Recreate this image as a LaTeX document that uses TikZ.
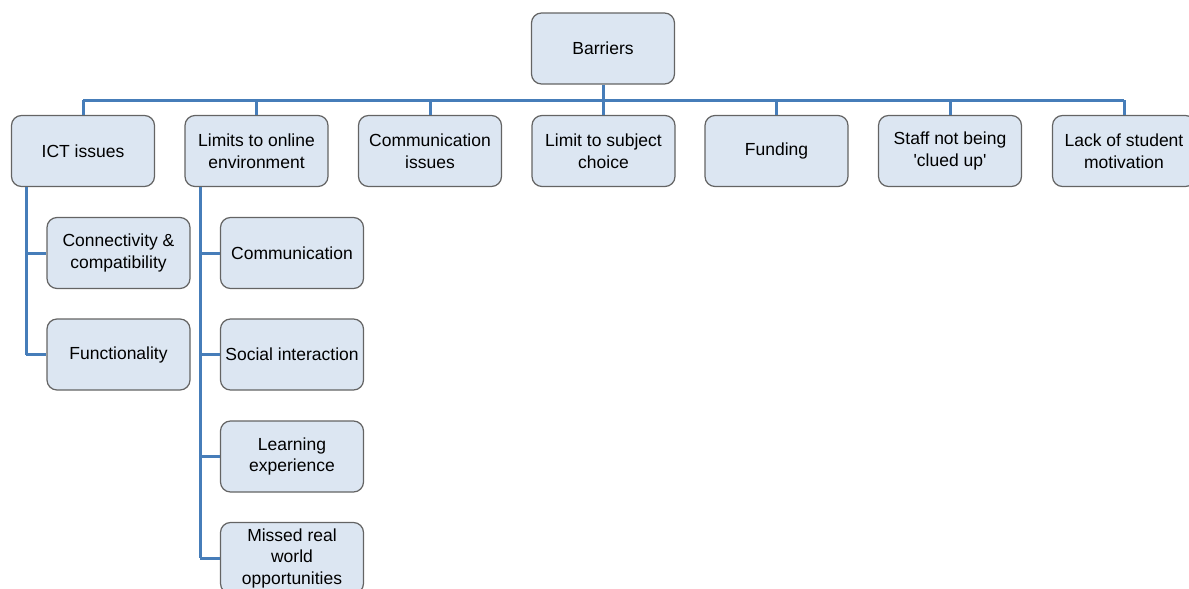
\documentclass[tikz,border=0pt]{standalone}
\usepackage{fontspec}
\setmainfont{Liberation Sans}
\begin{document}
\definecolor{boxfill}{RGB}{220,230,242}
\definecolor{boxline}{RGB}{100,100,100}
\definecolor{link}{RGB}{70,125,185}
\begin{tikzpicture}[x=1pt,y=-1pt,
  box/.style={draw=boxline,line width=1.2pt,fill=boxfill,rounded corners=10pt,
    minimum width=143pt,minimum height=71pt,align=center,inner sep=2pt,
    font=\fontsize{17.5}{21.5}\selectfont},
  link/.style={draw=link,line width=3pt}]
\useasboundingbox (0,0) rectangle (1189,589);
\clip (0,0) rectangle (1189,589);
% root
\node[box] (root) at (603,48.5) {Barriers};
% first level
\node[box] (ict)   at (83,151)   {ICT issues};
\node[box] (lim)   at (256.5,151) {Limits to online\\environment};
\node[box] (comm)  at (430,151)  {Communication\\issues};
\node[box] (subj)  at (603.5,151) {Limit to subject\\choice};
\node[box] (fund)  at (776.5,151) {Funding};
\node[box] (staff) at (950,151)  {Staff not being\\\textquotesingle clued up\textquotesingle};
\node[box] (mot)   at (1124,151) {Lack of student\\motivation};
% second level under ICT issues
\node[box] (conn)  at (118.5,253) {Connectivity \&\\compatibility};
\node[box] (func)  at (118.5,354.5) {Functionality};
% second level under online environment
\node[box] (ocom)  at (292,253)   {Communication};
\node[box] (soc)   at (292,354.5) {Social interaction};
\node[box] (learn) at (292,456.5) {Learning\\experience};
\node[box] (miss)  at (292,558)   {Missed real\\world\\opportunities};
% bus from root to the first level
\coordinate (bus) at (603,100);
\draw[link] (root.south) -- (bus);
\foreach \n in {ict,lim,comm,subj,fund,staff,mot}
  \draw[link] (\n.north) -- (\n.north |- bus);
\draw[link] (ict.north |- bus) -- (mot.north |- bus);
% branch rails down the left of each sub-list
\coordinate (railA) at (26,0);
\coordinate (railB) at (200,0);
\draw[link] (ict.south -| railA) -- (func.west -| railA);
\foreach \n in {conn,func}
  \draw[link] (\n.west -| railA) -- (\n.west);
\draw[link] (lim.south -| railB) -- (miss.west -| railB);
\foreach \n in {ocom,soc,learn,miss}
  \draw[link] (\n.west -| railB) -- (\n.west);
\end{tikzpicture}
\end{document}
